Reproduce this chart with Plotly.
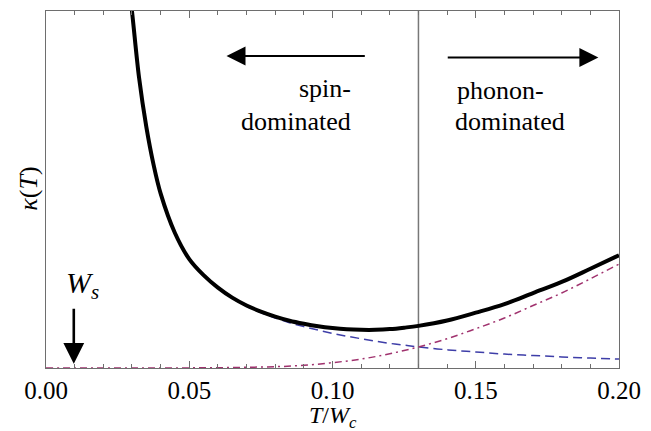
import plotly.graph_objects as go

# ---- data ----
T_total = [0.0285, 0.030, 0.0325, 0.035, 0.0375, 0.040, 0.045, 0.050, 0.055, 0.060, 0.065,
           0.070, 0.075, 0.080, 0.085, 0.090, 0.095, 0.100, 0.105, 0.110, 0.115,
           0.120, 0.125, 0.130, 0.140, 0.150, 0.160, 0.170, 0.180, 0.190, 0.200]
kappa_total = [1.10, 1.000, 0.812, 0.676, 0.571, 0.489, 0.378, 0.305, 0.260, 0.225, 0.197,
               0.175, 0.158, 0.144, 0.1325, 0.124, 0.117, 0.112, 0.1085, 0.107, 0.107,
               0.109, 0.113, 0.118, 0.133, 0.155, 0.179, 0.210, 0.241, 0.278, 0.316]

T_spin = [0.0285, 0.030, 0.0325, 0.035, 0.0375, 0.040, 0.045, 0.050, 0.055, 0.060, 0.065,
          0.070, 0.075, 0.080, 0.085, 0.090, 0.095, 0.100, 0.105, 0.110, 0.115,
          0.120, 0.125, 0.130, 0.140, 0.150, 0.160, 0.170, 0.180, 0.190, 0.200]
kappa_spin = [1.10, 1.000, 0.812, 0.676, 0.571, 0.489, 0.378, 0.305, 0.259, 0.224, 0.196,
              0.173, 0.155, 0.140, 0.127, 0.116, 0.106, 0.097, 0.089, 0.082, 0.075,
              0.069, 0.064, 0.059, 0.051, 0.045, 0.039, 0.035, 0.031, 0.028, 0.025]

T_phonon = [0.0, 0.01, 0.02, 0.03, 0.04, 0.05, 0.06, 0.07, 0.08, 0.09, 0.10, 0.11,
            0.12, 0.13, 0.14, 0.15, 0.16, 0.17, 0.18, 0.19, 0.20]
kappa_phonon = [0.0, 0.0, 0.0, 0.00005, 0.0001, 0.0003, 0.0008, 0.002, 0.0036, 0.0075,
                0.015, 0.025, 0.040, 0.059, 0.082, 0.110, 0.140, 0.175, 0.210, 0.250, 0.291]

T_cross = 0.13
W_s = 0.0097

x_ticks = [0.00, 0.05, 0.10, 0.15, 0.20]
x_ticklabels = ["0.00", "0.05", "0.10", "0.15", "0.20"]

FONT = "Liberation Serif"
FS = 26
TICK_FS = 25
AXIS_GRAY = "rgb(110,110,110)"

fig = go.Figure()
fig.add_trace(go.Scatter(x=T_spin, y=kappa_spin, mode="lines", line_shape="spline",
                         line=dict(color="rgb(62,62,168)", width=1.5, dash="9px,5px"),
                         hoverinfo="skip", showlegend=False))
fig.add_trace(go.Scatter(x=T_phonon, y=kappa_phonon, mode="lines", line_shape="spline",
                         line=dict(color="rgb(160,50,110)", width=1.5, dash="7px,4px,2px,4px"),
                         hoverinfo="skip", showlegend=False))
fig.add_trace(go.Scatter(x=T_total, y=kappa_total, mode="lines", line_shape="spline",
                         line=dict(color="black", width=4),
                         hoverinfo="skip", showlegend=False))

fig.add_vline(x=T_cross, line=dict(color="rgb(120,120,120)", width=1.5), layer="below")

txt_font = dict(family=FONT, size=FS, color="black")
anns = []
# Direction arrows
anns.append(dict(x=0.0630, y=0.874, ax=0.1118, ay=0.874, xref="x", yref="y", axref="x", ayref="y",
                 showarrow=True, arrowhead=2, arrowsize=1.9, arrowwidth=2, arrowcolor="black", text=""))
anns.append(dict(x=0.1928, y=0.870, ax=0.1397, ay=0.870, xref="x", yref="y", axref="x", ayref="y",
                 showarrow=True, arrowhead=2, arrowsize=1.9, arrowwidth=2, arrowcolor="black", text=""))
anns.append(dict(x=0.1071, y=0.782, xref="x", yref="y", xanchor="right", yanchor="middle",
                 text="spin-", showarrow=False, font=txt_font))
anns.append(dict(x=0.1071, y=0.690, xref="x", yref="y", xanchor="right", yanchor="middle",
                 text="dominated", showarrow=False, font=txt_font))
anns.append(dict(x=0.1429, y=0.777, xref="x", yref="y", xanchor="left", yanchor="middle",
                 text="phonon-", showarrow=False, font=txt_font))
anns.append(dict(x=0.1422, y=0.690, xref="x", yref="y", xanchor="left", yanchor="middle",
                 text="dominated", showarrow=False, font=txt_font))
# W_s marker
anns.append(dict(x=W_s, y=0.012, ax=W_s, ay=0.17, xref="x", yref="y", axref="x", ayref="y",
                 showarrow=True, arrowhead=2, arrowsize=1.6, arrowwidth=2.6, arrowcolor="black", text=""))
anns.append(dict(x=0.0126, y=0.232, xref="x", yref="y", xanchor="center", yanchor="middle",
                 text="<i>W</i><sub><i>s</i></sub>", showarrow=False,
                 font=dict(family=FONT, size=30, color="black")))
# axis titles
anns.append(dict(x=0.5, y=-0.138, xref="paper", yref="paper", xanchor="center", yanchor="middle",
                 text="<i>T</i>/<i>W</i><sub><i>c</i></sub>", showarrow=False,
                 font=dict(family=FONT, size=24, color="black")))
anns.append(dict(x=-0.031, y=0.503, xref="paper", yref="paper", xanchor="center", yanchor="middle",
                 text="<i>κ</i>(<i>T</i>)", textangle=-90, showarrow=False, font=txt_font))
fig.update_layout(annotations=anns)

fig.update_layout(
    width=651, height=431,
    margin=dict(l=46, r=24, t=10, b=63),
    paper_bgcolor="white", plot_bgcolor="white",
    font=dict(family=FONT, size=FS, color="black"),
    xaxis=dict(range=[0, 0.2], tickvals=x_ticks, ticktext=x_ticklabels,
               showline=True, linecolor=AXIS_GRAY, linewidth=1.2, mirror="ticks",
               ticks="inside", ticklen=7, tickwidth=1, tickcolor=AXIS_GRAY,
               minor=dict(dtick=0.01, tick0=0, ticks="inside", ticklen=4,
                          tickcolor=AXIS_GRAY, tickwidth=1),
               showgrid=False, zeroline=False,
               tickfont=dict(family=FONT, size=TICK_FS, color="black")),
    yaxis=dict(range=[0, 1], showticklabels=False, ticks="",
               showline=True, linecolor=AXIS_GRAY, linewidth=1.2, mirror=True,
               showgrid=False, zeroline=False),
)

fig.write_html("out.html",
               config={"displayModeBar": False, "responsive": False},
               post_script=("document.body.style.margin='0';document.body.style.padding='0';"
                            "document.body.style.overflow='hidden';"
                            "document.documentElement.style.overflow='hidden';"))
